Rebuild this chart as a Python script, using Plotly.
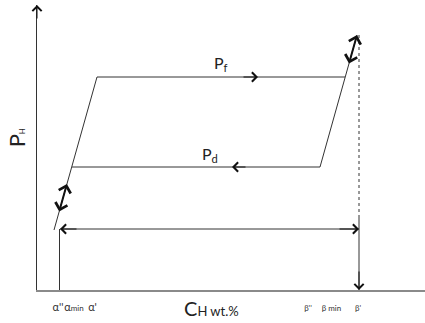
import plotly.graph_objects as go

# Schematic hysteresis loop (arbitrary units: C_H along x, P_H along y)
P_f = 213          # absorption plateau pressure
P_d = 123          # desorption plateau pressure
P_low = 61         # level of the miscibility-gap double arrow

# absorption branch: alpha slope -> Pf plateau
absorb_C = [17, 60, 308]
absorb_P = [60, P_f, P_f]
# desorption branch: beta slope -> Pd plateau
desorb_C = [320, 283, 35]
desorb_P = [255, P_d, P_d]

alpha_pp, alpha_min, alpha_p = 21, 37, 55.5
beta_pp, beta_min, beta_p = 271, 294.5, 321

# double arrows along the slopes
left_dbl_C = [21.8, 29.9]
left_dbl_P = [77, 106]
right_dbl_C = [311.6, 320]
right_dbl_P = [225, 255]

tick_vals = [alpha_pp, alpha_min, alpha_p, beta_pp, beta_min, beta_p]
tick_text = ["α''", "α<span style='font-size:8px'>min</span>", "α'",
             "<span style='font-size:8px'>β''</span>",
             "<span style='font-size:8px'>β min</span>",
             "<span style='font-size:8px'>β'</span>"]

LINE = "#333333"
fig = go.Figure()

fig.add_trace(go.Scatter(x=absorb_C, y=absorb_P, mode="lines",
                         line=dict(color=LINE, width=1), cliponaxis=False))
fig.add_trace(go.Scatter(x=desorb_C, y=desorb_P, mode="lines",
                         line=dict(color=LINE, width=1), cliponaxis=False))
# beta' dotted / solid vertical
fig.add_trace(go.Scatter(x=[beta_p + 1, beta_p + 1], y=[255, 75], mode="lines",
                         line=dict(color=LINE, width=1, dash="dot"), cliponaxis=False))
fig.add_trace(go.Scatter(x=[beta_p + 1, beta_p + 1], y=[75, 0], mode="lines",
                         line=dict(color=LINE, width=1), cliponaxis=False))
# alpha'' vertical
fig.add_trace(go.Scatter(x=[alpha_pp + 1.5, alpha_pp + 1.5], y=[P_low, 0], mode="lines",
                         line=dict(color=LINE, width=1), cliponaxis=False))
# horizontal miscibility-gap line
fig.add_trace(go.Scatter(x=[alpha_pp + 2, beta_p + 1], y=[P_low, P_low], mode="lines",
                         line=dict(color=LINE, width=1), cliponaxis=False))


def arrow(x0, y0, x1, y1, width=1.0, size=1.8, head=4, both=False):
    fig.add_annotation(x=x1, y=y1, ax=x0, ay=y0, xref="x", yref="y",
                       axref="x", ayref="y", text="", showarrow=True,
                       arrowhead=head, arrowsize=size, arrowwidth=width,
                       arrowcolor="#111111", standoff=0, startstandoff=0,
                       arrowside="end+start" if both else "end",
                       startarrowhead=head, startarrowsize=size)


# flow direction arrows on the plateaus
arrow(205, P_f, 221, P_f)
arrow(210, P_d, 195, P_d)
# miscibility gap double arrow
arrow(alpha_pp + 20, P_low, alpha_pp + 2, P_low)
arrow(beta_p - 20, P_low, beta_p + 1, P_low)
# beta' arrow down to axis
arrow(beta_p + 1, 20, beta_p + 1, 0)
# y-axis arrowhead
arrow(0, 270, 0, 285)
# thick double arrows on slopes
arrow(left_dbl_C[0], left_dbl_P[0], left_dbl_C[1], left_dbl_P[1], width=2, size=1.2, head=4, both=True)
arrow(right_dbl_C[0], right_dbl_P[0], right_dbl_C[1], right_dbl_P[1], width=2, size=1.2, head=4, both=True)

FONT = "Lato, 'Open Sans', sans-serif"
fig.add_annotation(x=184, y=227, xref="x", yref="y", showarrow=False,
                   text="P<sub>f</sub>", font=dict(size=16, color="#222", family=FONT))
fig.add_annotation(x=173, y=136, xref="x", yref="y", showarrow=False,
                   text="P<sub>d</sub>", font=dict(size=16, color="#222", family=FONT))
fig.add_annotation(x=-0.052, y=0.535, xref="paper", yref="paper", showarrow=False,
                   textangle=-90, xanchor="center", yanchor="middle",
                   text="P<span style='font-size:8px'>H</span>",
                   font=dict(size=22, color="#222", family=FONT))
fig.add_annotation(x=0.45, y=-0.063, xref="paper", yref="paper", showarrow=False,
                   xanchor="center", yanchor="middle",
                   text="C<span style='font-size:13px'>H wt.%</span>",
                   font=dict(size=20, color="#222", family=FONT))

fig.update_layout(
    width=425, height=323,
    margin=dict(l=37, r=0, t=5, b=33),
    paper_bgcolor="white", plot_bgcolor="white",
    showlegend=False,
    xaxis=dict(range=[0, 388], showgrid=False, zeroline=False, showline=True,
               linecolor="#8a8a8a", linewidth=2, ticks="",
               tickvals=tick_vals, ticktext=tick_text, tickangle=0,
               tickfont=dict(size=11, color="#333", family=FONT),
               ticklabelstandoff=6,
               fixedrange=True),
    yaxis=dict(range=[0, 285], showgrid=False, zeroline=False, showline=True,
               linecolor="#333333", linewidth=1, showticklabels=False, ticks="",
               fixedrange=True),
)

fig.write_html("out.html", config={"displayModeBar": False},
               post_script="document.body.style.margin='0';")
